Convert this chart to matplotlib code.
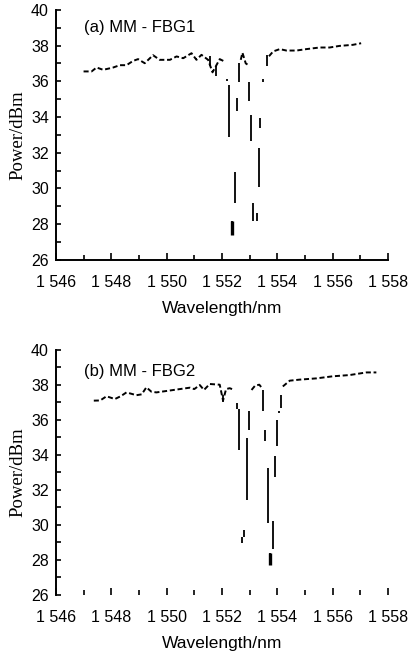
import numpy as np
import matplotlib
matplotlib.use("Agg")
import matplotlib.pyplot as plt
from matplotlib.ticker import MultipleLocator, FuncFormatter

nan = np.nan

# --- (a) MM-FBG1: slowly varying background, NaN marks the dip gaps
wl_a = [1547.0, 1547.29, 1547.47, 1547.71, 1548.07, 1548.31, 1548.55, 1548.79,
        1548.97, 1549.21, 1549.51, 1549.75, 1550.12, 1550.36, 1550.6, 1550.9,
        1551.08, 1551.26, 1551.5, 1551.66, 1551.92, 1552.1, nan,
        1552.68, 1552.74, 1552.8, 1552.86, 1552.94, nan,
        1553.7, 1553.85, 1554.09, 1554.33, 1554.69, 1555.05, 1555.53,
        1555.89, 1556.25, 1556.73, 1557.03]
pw_a = [36.55, 36.55, 36.77, 36.64, 36.77, 36.9, 36.9, 37.14,
        37.24, 37.01, 37.46, 37.2, 37.2, 37.39, 37.29, 37.57,
        37.2, 37.48, 37.2, 36.5, 37.24, 37.1, nan,
        37.2, 37.6, 37.3, 37.0, 36.92, nan,
        37.4, 37.67, 37.8, 37.72, 37.72, 37.8, 37.89,
        37.89, 37.98, 38.04, 38.13]

# steep parts of the two reflection dips (wavelength, low, high)
dip_wl_a = [1551.56, 1551.78, 1552.2, 1552.26, 1552.36, 1552.48, 1552.53, 1552.62,
            1552.98, 1553.05, 1553.12, 1553.25, 1553.34, 1553.39, 1553.49, 1553.63]
dip_lo_a = [36.86, 36.3, 36.0, 32.9, 27.4, 29.18, 34.36, 35.93,
            34.92, 32.68, 28.15, 28.15, 30.1, 33.38, 35.93, 36.86]
dip_hi_a = [37.4, 36.83, 36.15, 35.8, 28.15, 30.89, 35.06, 37.0,
            35.93, 34.12, 29.18, 28.6, 32.25, 33.94, 36.1, 37.48]

# --- (b) MM-FBG2
wl_b = [1547.37, 1547.6, 1547.83, 1548.13, 1548.35, 1548.55, 1548.91, 1549.1,
        1549.27, 1549.45, 1549.63, 1549.99, 1550.48, 1550.84, 1551.0, 1551.2,
        1551.35, 1551.56, 1551.92, 1552.04, 1552.15, 1552.28, 1552.45, nan,
        1553.07, 1553.2, 1553.35, 1553.45, nan,
        1554.2, 1554.45, 1554.81, 1555.41, 1556.01, 1556.61, 1557.22, 1557.58]
pw_b = [37.09, 37.1, 37.34, 37.18, 37.35, 37.56, 37.4, 37.45,
        37.85, 37.6, 37.56, 37.64, 37.75, 37.83, 37.75, 37.98,
        37.7, 38.04, 38.0, 37.1, 37.75, 37.8, 37.7, nan,
        37.7, 37.95, 38.0, 37.8, nan,
        37.9, 38.23, 38.29, 38.36, 38.48, 38.55, 38.7, 38.7]

dip_wl_b = [1552.04, 1552.55, 1552.62, 1552.72, 1552.78, 1552.91, 1552.98, 1553.49,
            1553.56, 1553.66, 1553.75, 1553.85, 1553.92, 1554.0, 1554.06, 1554.14]
dip_lo_b = [37.0, 36.6, 34.29, 28.97, 29.3, 31.44, 35.43, 36.48,
            34.77, 30.1, 27.73, 28.6, 32.73, 34.52, 36.4, 36.67]
dip_hi_b = [37.4, 36.96, 36.6, 29.3, 29.73, 34.96, 36.48, 37.72,
            35.43, 33.24, 28.4, 30.2, 33.95, 36.0, 36.5, 37.43]

sans = "Liberation Sans"
serif = "Liberation Serif"


def wl_fmt(v, pos):
    s = f"{int(round(v))}"
    return s[0] + " " + s[1:]


def panel(ax, wl, pw, dwl, dlo, dhi, label, label_y, show_bottom=True):
    ax.plot(wl, pw, color="black", lw=1.4, linestyle=(0, (2.6, 1.4)))
    ax.vlines(dwl, dlo, dhi, color="black", lw=1.3)
    # the deepest points look heavier
    k = int(np.argmin(dlo))
    ax.vlines(dwl[k], dlo[k], dhi[k], color="black", lw=2.4)

    ax.set_xlim(1546, 1558)
    ax.set_ylim(26, 40)
    ax.xaxis.set_major_locator(MultipleLocator(2))
    ax.xaxis.set_minor_locator(MultipleLocator(1))
    ax.yaxis.set_major_locator(MultipleLocator(2))
    ax.yaxis.set_minor_locator(MultipleLocator(1))
    ax.xaxis.set_major_formatter(FuncFormatter(wl_fmt))

    for s in ("top", "right"):
        ax.spines[s].set_visible(False)
    ax.spines["left"].set_linewidth(1.4)
    ax.spines["bottom"].set_linewidth(1.4)
    ax.spines["bottom"].set_visible(show_bottom)

    ax.tick_params(axis="x", which="major", direction="in", length=4.8, width=1.2,
                   pad=11, labelsize=11.5)
    ax.tick_params(axis="x", which="minor", direction="in", length=3.4, width=1.2)
    ax.tick_params(axis="y", which="major", direction="in", length=3.5, width=1.2,
                   pad=5, labelsize=11.5)
    ax.tick_params(axis="y", which="minor", direction="in", length=3.5, width=1.2)
    for t in ax.get_xticklabels() + ax.get_yticklabels():
        t.set_fontfamily(sans)

    ax.set_xlabel("Wavelength/nm", fontfamily=sans, fontsize=12.5, labelpad=8)
    ax.set_ylabel("Power/dBm", fontfamily=serif, fontsize=13.5, labelpad=3)
    ax.text(1547.0, label_y, label, fontfamily=sans,
            fontsize=12, va="center", ha="left")


fig = plt.figure(figsize=(4.11, 6.56), dpi=100)
ax_a = fig.add_axes([0.136, 0.604, 0.808, 0.381])
ax_b = fig.add_axes([0.136, 0.093, 0.808, 0.374])

panel(ax_a, wl_a, pw_a, dip_wl_a, dip_lo_a, dip_hi_a, "(a) MM - FBG1", 39.0)
panel(ax_b, wl_b, pw_b, dip_wl_b, dip_lo_b, dip_hi_b, "(b) MM - FBG2", 38.75,
      show_bottom=False)

fig.savefig("out.png", dpi=100)
